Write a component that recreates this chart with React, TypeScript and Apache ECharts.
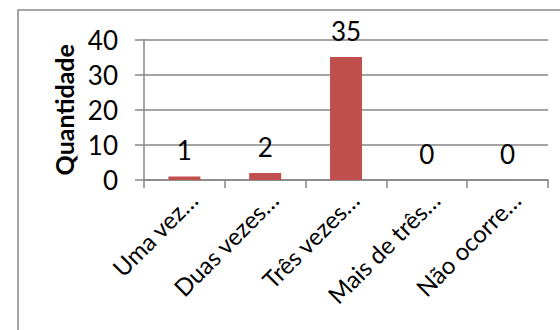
import React, { useEffect, useRef } from "react";
import * as echarts from "echarts";

const categories = ["Uma vez…", "Duas vezes…", "Três vezes…", "Mais de três…", "Não ocorre…"];
const values = [1, 2, 35, 0, 0];
const yMin = 0;
const yMax = 40;
const yInterval = 10;
const yAxisName = "Quantidade";

const FONT = "Lato";

export default function App() {
  const ref = useRef<HTMLDivElement>(null);
  useEffect(() => {
    if (!ref.current) return;
    const chart = echarts.init(ref.current, undefined, { renderer: "svg" });
    chart.setOption({
      animation: false,
      backgroundColor: "#ffffff",
      textStyle: { fontFamily: FONT },
      graphic: [
        {
          type: "rect",
          shape: { x: 18, y: 10, width: 700, height: 500 },
          style: { fill: "none", stroke: "#888888", lineWidth: 1.5 },
          silent: true,
        },
      ],
      grid: { left: 144, right: 12, top: 39.5, bottom: 150, containLabel: false },
      xAxis: {
        type: "category",
        data: categories,
        axisLine: { lineStyle: { color: "#868686", width: 1.5 } },
        axisTick: { show: true, length: 8, lineStyle: { color: "#868686", width: 1.5 } },
        axisLabel: {
          rotate: 45,
          interval: 0,
          align: "right",
          verticalAlign: "top",
          margin: 7,
          color: "#000000",
          fontFamily: FONT,
          fontSize: 24,
        },
      },
      yAxis: {
        type: "value",
        min: yMin,
        max: yMax,
        interval: yInterval,
        name: yAxisName,
        nameLocation: "middle",
        nameRotate: 90,
        nameGap: 64,
        nameTextStyle: { color: "#000000", fontFamily: FONT, fontWeight: "bold", fontSize: 25 },
        axisLine: { show: true, lineStyle: { color: "#868686", width: 1.5 } },
        axisTick: { show: true, length: 9, lineStyle: { color: "#868686", width: 1.5 } },
        axisLabel: { margin: 26, color: "#000000", fontFamily: FONT, fontSize: 26 },
        splitLine: { show: true, lineStyle: { color: "#868686", width: 1.5 } },
      },
      series: [
        {
          type: "bar",
          data: values,
          barWidth: 32,
          itemStyle: { color: "#C0504D" },
          label: {
            show: true,
            position: "top",
            distance: 13,
            color: "#000000",
            fontFamily: FONT,
            fontSize: 26,
          },
        },
      ],
    });
    return () => chart.dispose();
  }, []);
  return <div ref={ref} style={{ position: "fixed", left: 0, top: 0, width: 560, height: 330 }} />;
}
